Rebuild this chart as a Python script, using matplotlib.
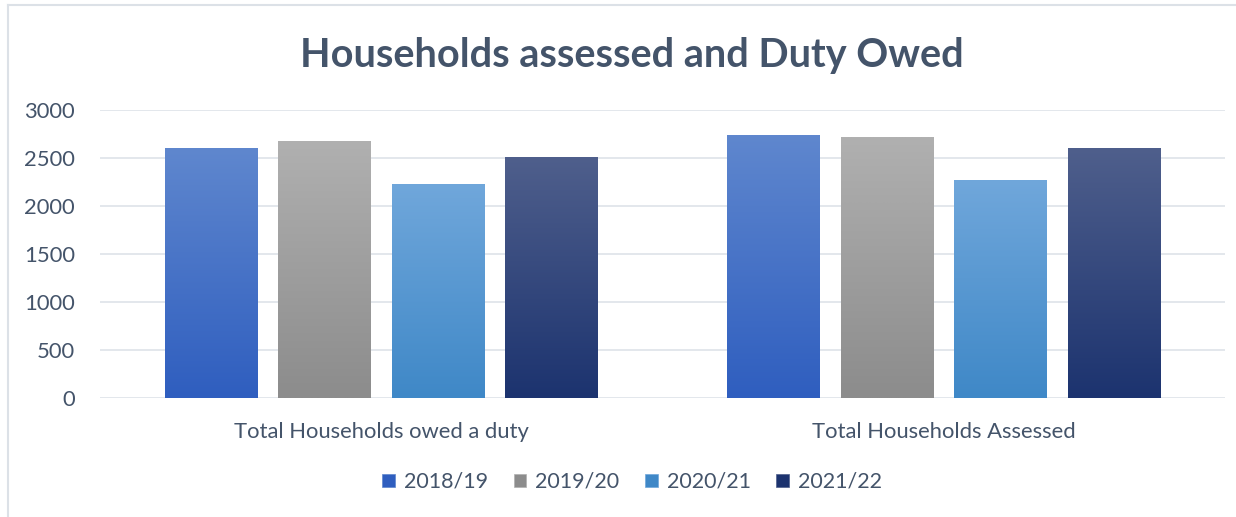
import matplotlib
matplotlib.use("Agg")
import matplotlib.pyplot as plt
import numpy as np
from matplotlib.colors import LinearSegmentedColormap
from matplotlib.lines import Line2D
from matplotlib.patches import Patch

categories = ["Total Households owed a duty", "Total Households Assessed"]
years = ["2018/19", "2019/20", "2020/21", "2021/22"]
v_2018 = [2600, 2736]
v_2019 = [2672, 2715]
v_2020 = [2225, 2268]
v_2021 = [2505, 2600]
series = [v_2018, v_2019, v_2020, v_2021]

# (top colour, bottom colour) for the vertical gradient of each series
grads = [("#5F87CE", "#2F5EBF"),
         ("#B0B0B0", "#8C8C8C"),
         ("#70A7DB", "#3F88C7"),
         ("#4F5F8C", "#1C336F")]
text_col = "#44546A"
grid_col = "#E1E5EA"

plt.rcParams['font.family'] = ['Lato', 'DejaVu Sans']

fig = plt.figure(figsize=(12.36, 5.17), dpi=100)
ax = fig.add_axes([100/1236, 1 - 398/517, 1125/1236, 288/517])

x = np.arange(len(categories))
step = 0.2018
width = 0.164

grad = np.linspace(1, 0, 256).reshape(-1, 1)
for i, vals in enumerate(series):
    cmap = LinearSegmentedColormap.from_list("g%d" % i, [grads[i][1], grads[i][0]])
    pos = x + (i - 1.5) * step
    bars = ax.bar(pos, vals, width, color="none", zorder=3)
    for b in bars:
        x0, y0 = b.get_x(), b.get_y()
        ax.imshow(grad, extent=(x0, x0 + b.get_width(), y0, y0 + b.get_height()),
                  cmap=cmap, aspect="auto", zorder=3, interpolation="bilinear")

ax.set_xlim(-0.5, 1.5)
ax.set_ylim(0, 3000)
ax.set_yticks(np.arange(0, 3001, 500))
ax.set_xticks(x)
ax.set_xticklabels(categories)
ax.grid(axis="y", color=grid_col, linewidth=1.3, zorder=0)
for s in ax.spines.values():
    s.set_visible(False)
ax.tick_params(length=0, labelsize=15.8, labelcolor=text_col)
ax.tick_params(axis="y", pad=18)
ax.tick_params(axis="x", pad=17)

fig.text(632/1236, 1 - 55/517, "Households assessed and Duty Owed",
         ha="center", va="center", fontsize=28.5, fontweight="bold", color=text_col)

handles = []
for i in range(len(years)):
    handles.append(Patch(facecolor=grads[i][1], edgecolor=grads[i][0], linewidth=0.5))
fig.legend(handles, years, loc="center", bbox_to_anchor=(632/1236, 1 - 482/517),
           ncol=4, frameon=False, fontsize=15.5, labelcolor=text_col,
           handlelength=0.6, handleheight=0.6, columnspacing=1.2, handletextpad=0.4)

# outer chart border (left and top visible)
fig.add_artist(Line2D([8/1236, 8/1236], [0, 1 - 5/517], color="#DCE1E7", linewidth=1.5))
fig.add_artist(Line2D([8/1236, 1], [1 - 5/517, 1 - 5/517], color="#DCE1E7", linewidth=1.5))

fig.savefig("out.png", dpi=100)
